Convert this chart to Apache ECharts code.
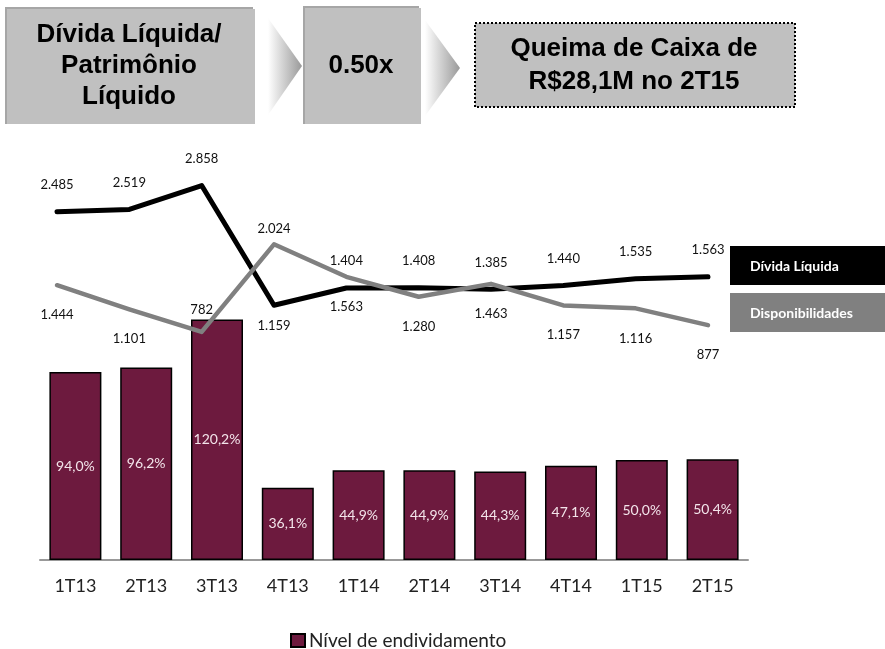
<!DOCTYPE html>
<html>
<head>
<meta charset="utf-8">
<script src="https://cdn.jsdelivr.net/npm/echarts@6/dist/echarts.min.js"></script>
<style>
  html, body { margin: 0; padding: 0; background: #fff; }
  #chart { width: 885px; height: 649px; }
</style>
</head>
<body>
<div id="chart"></div>
<script>
// quarters
const quarters = ['1T13', '2T13', '3T13', '4T13', '1T14', '2T14', '3T14', '4T14', '1T15', '2T15'];
// Nível de endividamento (%)
const endividamento = [94.0, 96.2, 120.2, 36.1, 44.9, 44.9, 44.3, 47.1, 50.0, 50.4];
// R$ milhões
const dividaLiquida = [2485, 2519, 2858, 1159, 1404, 1408, 1385, 1440, 1535, 1563];
const disponibilidades = [1444, 1101, 782, 2024, 1563, 1280, 1463, 1157, 1116, 877];

// label placement (px, relative to the point)
const dividaLabelDy = [-27, -27, -27, 21, -27, -27, -27, -27, -27, -27];
const dispLabelDy = [30, 29, -22, -15, 30, 30, 30, 29, 30, 30];

const fmt = v => v >= 1000 ? (v / 1000).toFixed(3) : String(v);
const pct = v => v.toFixed(1).replace('.', ',') + '%';

const font = 'Lato, "Open Sans", sans-serif';
const headFont = 'bold 26px "Liberation Sans", Arial, sans-serif';
const chart = echarts.init(document.getElementById('chart'));

const lineData = (vals, dys) => vals.map((v, i) => ({
    value: v,
    label: { offset: [0, dys[i]] }
}));

const fade = () => new echarts.graphic.LinearGradient(0, 0, 1, 0, [
    { offset: 0, color: 'rgba(255,255,255,1)' },
    { offset: 1, color: '#999' }
]);

chart.setOption({
    animation: false,
    textStyle: { fontFamily: font },
    grid: [
        { left: 40, right: 137, top: 260, bottom: 89 },
        { left: 57, right: 177, top: 175.5, bottom: 262 }
    ],
    xAxis: [
        {
            type: 'category', gridIndex: 0, data: quarters,
            axisLine: { lineStyle: { color: '#999', width: 2 } },
            axisTick: { length: 6, lineStyle: { color: '#999', width: 2 } },
            axisLabel: { color: '#222', fontSize: 18, margin: 17, fontFamily: font }
        },
        { type: 'category', gridIndex: 1, data: quarters, boundaryGap: false, show: false }
    ],
    yAxis: [
        { type: 'value', gridIndex: 0, min: 0, max: 150, show: false, splitLine: { show: false } },
        { type: 'value', gridIndex: 1, min: 0, max: 3000, show: false, splitLine: { show: false } }
    ],
    legend: {
        data: ['Nível de endividamento'],
        left: 285, top: 626,
        icon: 'rect', itemWidth: 14, itemHeight: 13, itemGap: 10,
        textStyle: { fontSize: 19, color: '#222', fontFamily: font, padding: [0, 0, 0, -1] }
    },
    series: [
        {
            name: 'Nível de endividamento', type: 'bar', xAxisIndex: 0, yAxisIndex: 0,
            data: endividamento, barWidth: 52,
            itemStyle: { color: '#6d1a3e', borderColor: '#000', borderWidth: 1.5 },
            label: {
                show: true, position: 'inside', color: '#f3e4ea', fontSize: 14, fontFamily: font,
                formatter: p => pct(p.value)
            }
        },
        {
            name: 'Dívida Líquida', type: 'line', xAxisIndex: 1, yAxisIndex: 1,
            data: lineData(dividaLiquida, dividaLabelDy),
            symbol: 'circle', symbolSize: 1,
            itemStyle: { color: '#000' },
            lineStyle: { color: '#000', width: 5, cap: 'round', join: 'round' },
            label: {
                show: true, position: 'inside', color: '#111', fontSize: 13, fontFamily: font,
                formatter: p => fmt(p.value)
            }
        },
        {
            name: 'Disponibilidades', type: 'line', xAxisIndex: 1, yAxisIndex: 1,
            data: lineData(disponibilidades, dispLabelDy),
            symbol: 'circle', symbolSize: 1,
            itemStyle: { color: '#808080' },
            lineStyle: { color: '#808080', width: 4.5, cap: 'round', join: 'round' },
            label: {
                show: true, position: 'inside', color: '#111', fontSize: 13, fontFamily: font,
                formatter: p => fmt(p.value)
            }
        }
    ],
    graphic: [
        // header box 1
        { type: 'rect', shape: { x: 5, y: 7, width: 248, height: 117 }, style: { fill: '#a6a6a6' } },
        { type: 'rect', shape: { x: 7, y: 9, width: 248, height: 115 }, style: { fill: '#c0c0c0' } },
        {
            type: 'text', x: 129, y: 66,
            style: {
                text: 'Dívida Líquida/\nPatrimônio\nLíquido', fill: '#000', font: headFont,
                align: 'center', verticalAlign: 'middle', lineHeight: 31
            }
        },
        // chevron 1
        { type: 'polygon', shape: { points: [[268, 18], [302, 66], [268, 115]] }, style: { fill: fade() } },
        // header box 2
        { type: 'rect', shape: { x: 303, y: 6, width: 116, height: 118 }, style: { fill: '#a6a6a6' } },
        { type: 'rect', shape: { x: 305, y: 8, width: 116, height: 116 }, style: { fill: '#c0c0c0' } },
        {
            type: 'text', x: 361, y: 66,
            style: { text: '0.50x', fill: '#000', font: headFont, align: 'center', verticalAlign: 'middle' }
        },
        // chevron 2
        { type: 'polygon', shape: { points: [[425, 20], [460, 68], [425, 116]] }, style: { fill: fade() } },
        // header box 3
        {
            type: 'rect', shape: { x: 475, y: 23, width: 320, height: 84 },
            style: { fill: '#c0c0c0', stroke: '#000', lineWidth: 2, lineDash: [2, 2] }
        },
        {
            type: 'text', x: 634, y: 65,
            style: {
                text: 'Queima de Caixa de\nR$28,1M no 2T15', fill: '#000', font: headFont,
                align: 'center', verticalAlign: 'middle', lineHeight: 33
            }
        },
        // line legend boxes
        { type: 'rect', shape: { x: 730, y: 246, width: 155, height: 39 }, style: { fill: '#000' } },
        {
            type: 'text', x: 750, y: 266,
            style: { text: 'Dívida Líquida', fill: '#fff', font: 'bold 14px ' + font, verticalAlign: 'middle' }
        },
        { type: 'rect', shape: { x: 730, y: 293, width: 155, height: 39 }, style: { fill: '#808080' } },
        {
            type: 'text', x: 750, y: 313,
            style: { text: 'Disponibilidades', fill: '#fff', font: 'bold 14px ' + font, verticalAlign: 'middle' }
        }
    ]
});
</script>
</body>
</html>
